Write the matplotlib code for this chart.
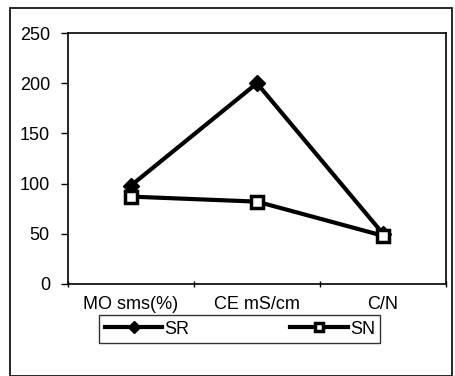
import matplotlib
matplotlib.use('Agg')
from matplotlib import pyplot as plt
from matplotlib.patches import Rectangle

categories = ['MO sms(%)', 'CE mS/cm', 'C/N']
sr_values = [98, 200, 50]
sn_values = [87, 82, 48]
yticks = [0, 50, 100, 150, 200, 250]

plt.rcParams['font.family'] = ['Liberation Sans', 'DejaVu Sans']

fig = plt.figure(figsize=[4.56, 3.76], dpi=100)
ax = fig.add_axes([0.149, 0.245, 0.829, 0.667])

x = list(range(len(categories)))
ax.plot(x, sr_values, '-', marker='D', color='black', linewidth=3,
        markersize=8, markerfacecolor='black', label='SR')
ax.plot(x, sn_values, '-', marker='s', color='black', linewidth=3,
        markersize=8, markerfacecolor='white', markeredgewidth=2.5, label='SN')

ax.set_xlim(-0.5, len(categories) - 0.5)
ax.set_ylim(0, 250)
ax.set_yticks(yticks)
ax.set_yticklabels([str(v) for v in yticks], fontsize=13)

# category boundaries as major ticks, labels on minor ticks at centers
ax.set_xticks([i - 0.5 for i in range(len(categories) + 1)])
ax.set_xticklabels([])
ax.set_xticks(x, minor=True)
ax.set_xticklabels(categories, minor=True, fontsize=13)
ax.tick_params(axis='x', which='major', direction='inout', length=5, width=1)
ax.tick_params(axis='x', which='minor', length=0, pad=9)
ax.tick_params(axis='y', direction='out', length=5, width=1, pad=8)

for side in ['left', 'bottom', 'top', 'right']:
    ax.spines[side].set_color('black')
    ax.spines[side].set_linewidth(1.2)

leg = fig.legend(loc='center', bbox_to_anchor=(0.526, 0.125), ncol=2,
                 frameon=True, fancybox=False, edgecolor='black',
                 fontsize=13, handlelength=3.2, columnspacing=5.6,
                 handletextpad=0.1, borderpad=0.3, markerscale=0.8)
leg.get_frame().set_linewidth(1)

# outer chart frame
fig.patches.append(Rectangle((10 / 456, 0), 442 / 456, 1 - 8 / 376,
                             transform=fig.transFigure, fill=False,
                             edgecolor='black', linewidth=1.2))

fig.savefig('out.png', dpi=100)
